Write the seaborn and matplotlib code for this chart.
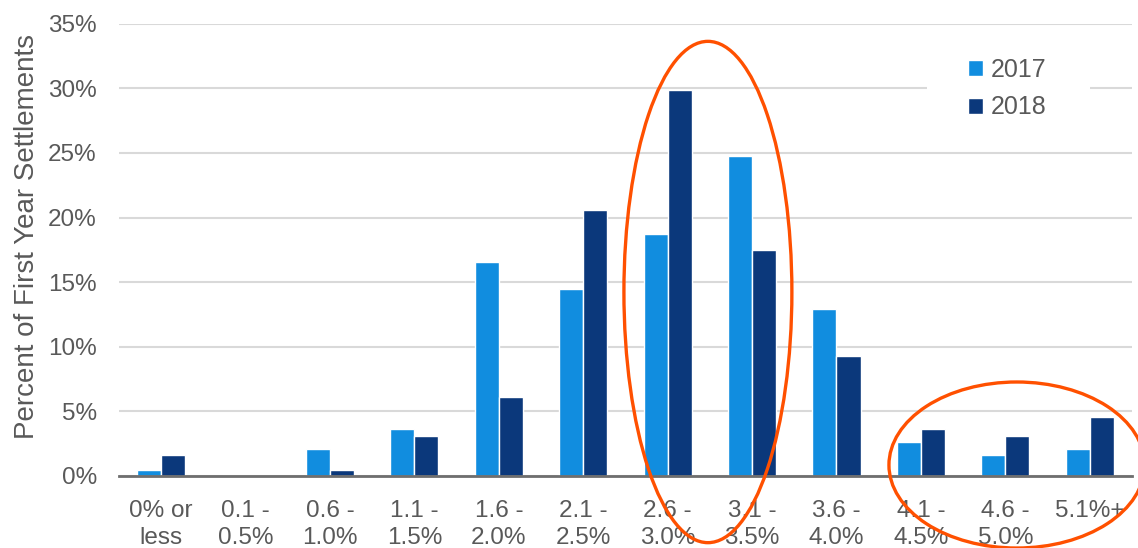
import matplotlib
matplotlib.use("Agg")
import matplotlib.pyplot as plt
from matplotlib.patches import Ellipse, Rectangle
import seaborn as sns
import pandas as pd

categories = ["0% or\nless", "0.1 -\n0.5%", "0.6 -\n1.0%", "1.1 -\n1.5%", "1.6 -\n2.0%",
              "2.1 -\n2.5%", "2.6 -\n3.0%", "3.1 -\n3.5%", "3.6 -\n4.0%", "4.1 -\n4.5%",
              "4.6 -\n5.0%", "5.1%+"]
values_2017 = [0.5, 0.0, 2.1, 3.6, 16.6, 14.5, 18.7, 24.8, 12.9, 2.6, 1.6, 2.1]
values_2018 = [1.6, 0.0, 0.5, 3.1, 6.1, 20.6, 29.9, 17.5, 9.3, 3.6, 3.1, 4.6]
series = ["2017", "2018"]
yticks = [0, 5, 10, 15, 20, 25, 30, 35]

df = pd.DataFrame({
    "category": categories * 2,
    "value": values_2017 + values_2018,
    "year": [series[0]] * len(categories) + [series[1]] * len(categories),
})

sns.set_theme(style="white")
plt.rcParams["font.family"] = ["Liberation Sans", "DejaVu Sans"]
text_color = "#595959"

fig = plt.figure(figsize=(11.38, 5.48), dpi=100)
ax = fig.add_axes([0.1046, 0.1314, 0.89, 0.8252])

sns.barplot(data=df, x="category", y="value", hue="year", order=categories,
            hue_order=series, palette=["#118DDF", "#0B387B"], width=0.57,
            saturation=1, ax=ax, legend=True)

ax.set_ylim(0, 35)
ax.set_xlim(-0.5, len(categories) - 0.5)
ax.set_yticks(yticks)
ax.set_yticklabels([f"{t}%" for t in yticks])
ax.yaxis.grid(True, color="#D9D9D9", linewidth=1.5)
ax.set_axisbelow(True)
for s in ["top", "right", "left"]:
    ax.spines[s].set_visible(False)
ax.spines["bottom"].set_color("#6E6E6E")
ax.spines["bottom"].set_linewidth(2)
ax.tick_params(axis="both", length=0, labelsize=17.5, colors=text_color)
ax.tick_params(axis="x", pad=17)
ax.tick_params(axis="y", pad=16)
for lbl in ax.get_xticklabels():
    lbl.set_linespacing(1.3)
    lbl.set_verticalalignment("top")
ax.set_xlabel("")
ax.set_ylabel("Percent of First Year Settlements", fontsize=20, color=text_color, labelpad=8)
ax.yaxis.set_label_coords(-0.078, 0.53)

# white background block behind the legend (breaks the gridline like the original)
ax.add_patch(Rectangle((0.798, 0.745), 0.1605, 0.215, transform=ax.transAxes,
                       facecolor="white", edgecolor="none", zorder=1.5))
leg = ax.legend(loc="upper left", bbox_to_anchor=(0.838, 0.925), frameon=False,
                fontsize=18, handlelength=0.6, handleheight=0.6, handletextpad=0.3,
                labelspacing=0.55, borderpad=0, borderaxespad=0)
for t in leg.get_texts():
    t.set_color(text_color)

orange = "#FF5000"
ax.add_patch(Ellipse((6.477, 14.24), 1.99, 38.8, fill=False, edgecolor=orange,
                     linewidth=2.4, clip_on=False, zorder=5))
ax.add_patch(Ellipse((10.137, 0.85), 3.03, 12.85, angle=0, fill=False, edgecolor=orange,
                     linewidth=2.4, clip_on=False, zorder=5))

fig.savefig("out.png", dpi=100)
